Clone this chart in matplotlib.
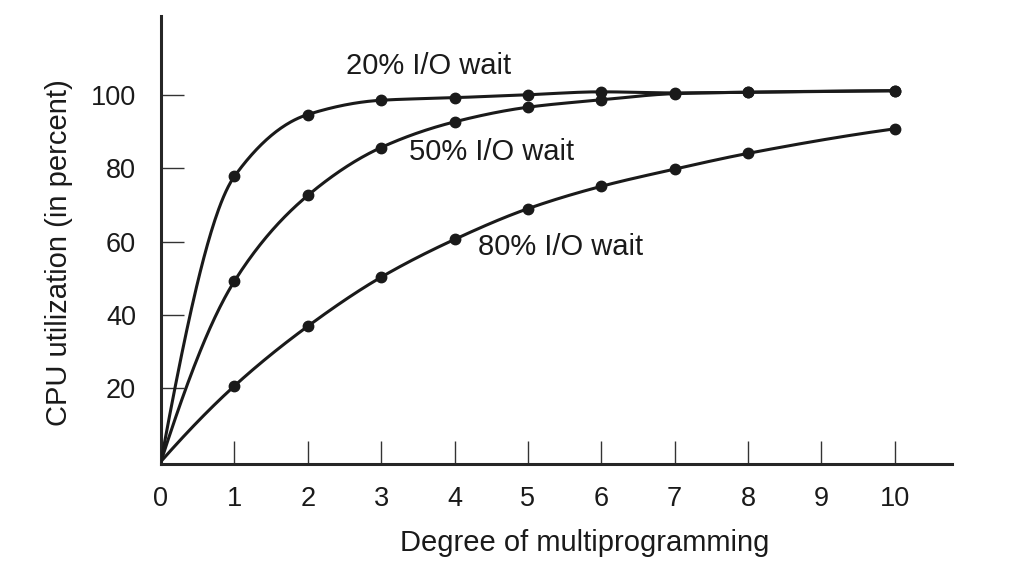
import numpy as np
import matplotlib
matplotlib.use("Agg")
import matplotlib.pyplot as plt

plt.rcParams['font.family'] = ['Liberation Sans', 'DejaVu Sans']

# Data
degree = [0, 1, 2, 3, 4, 5, 6, 7, 8, 10]
io20 = [0, 77.8, 94.7, 98.6, 99.3, 100.1, 100.9, 100.6, 100.8, 101.2]
io50 = [0, 49.2, 72.6, 85.7, 92.7, 96.7, 98.7, 100.4, 100.8, 101.2]
io80 = [0, 20.6, 36.9, 50.3, 60.6, 69.0, 75.1, 79.8, 84.1, 90.8]
xticks = list(range(0, 11))
yticks = [20, 40, 60, 80, 100]
labels = ["20% I/O wait", "50% I/O wait", "80% I/O wait"]


def pchip(x, y, xs):
    x = np.asarray(x, float); y = np.asarray(y, float)
    h = np.diff(x); d = np.diff(y) / h
    n = len(x); m = np.zeros(n)
    for k in range(1, n - 1):
        if d[k - 1] * d[k] <= 0:
            m[k] = 0
        else:
            w1 = 2 * h[k] + h[k - 1]; w2 = h[k] + 2 * h[k - 1]
            m[k] = (w1 + w2) / (w1 / d[k - 1] + w2 / d[k])
    def end(h0, h1, d0, d1):
        v = ((2 * h0 + h1) * d0 - h0 * d1) / (h0 + h1)
        if np.sign(v) != np.sign(d0):
            v = 0
        elif np.sign(d0) != np.sign(d1) and abs(v) > abs(3 * d0):
            v = 3 * d0
        return v
    m[0] = end(h[0], h[1], d[0], d[1])
    m[-1] = end(h[-1], h[-2], d[-1], d[-2])
    idx = np.clip(np.searchsorted(x, xs) - 1, 0, n - 2)
    t = (xs - x[idx]) / h[idx]
    h00 = 2 * t**3 - 3 * t**2 + 1; h10 = t**3 - 2 * t**2 + t
    h01 = -2 * t**3 + 3 * t**2; h11 = t**3 - t**2
    return h00 * y[idx] + h10 * h[idx] * m[idx] + h01 * y[idx + 1] + h11 * h[idx] * m[idx + 1]


fig = plt.figure(figsize=(10.14, 5.76), dpi=100)
ax = fig.add_axes([161 / 1014, 1 - 464 / 576, (952 - 161) / 1014, (464 - 16) / 576])

col = "#1a1a1a"
xs = np.linspace(0, 10, 600)
for ys in (io20, io50, io80):
    ax.plot(xs, pchip(degree, ys, xs), color=col, lw=2.2, solid_capstyle='round', zorder=3)
    ax.plot(degree[1:], ys[1:], 'o', color=col, ms=7.5, zorder=4)

ax.set_xlim(0, 10.78)
ax.set_ylim(-0.7, 121.6)
ax.set_xticks(xticks)
ax.set_yticks(yticks)
ax.tick_params(axis='both', direction='in', length=16.5, width=1.0, color='#333333',
               labelsize=19.5, pad=16, labelcolor=col)
ax.tick_params(axis='y', pad=18)
for s in ('top', 'right'):
    ax.spines[s].set_visible(False)
for s in ('left', 'bottom'):
    ax.spines[s].set_linewidth(2.2)
    ax.spines[s].set_color('#262626')

fs = 21
ax.set_xlabel("Degree of multiprogramming", fontsize=fs, color=col)
ax.set_ylabel("CPU utilization (in percent)", fontsize=fs, color=col)
ax.xaxis.set_label_coords((585 - 161) / 791, -(529 - 464) / 448)
ax.yaxis.set_label_coords(-(161 - 73) / 791, (464 - 253) / 448)

ax.text(3.64, 107.9, labels[0], fontsize=fs, ha='center', va='center', color=col)
ax.text(4.50, 84.4, labels[1], fontsize=fs, ha='center', va='center', color=col)
ax.text(5.45, 58.5, labels[2], fontsize=fs, ha='center', va='center', color=col)

fig.savefig("out.png", dpi=100)
